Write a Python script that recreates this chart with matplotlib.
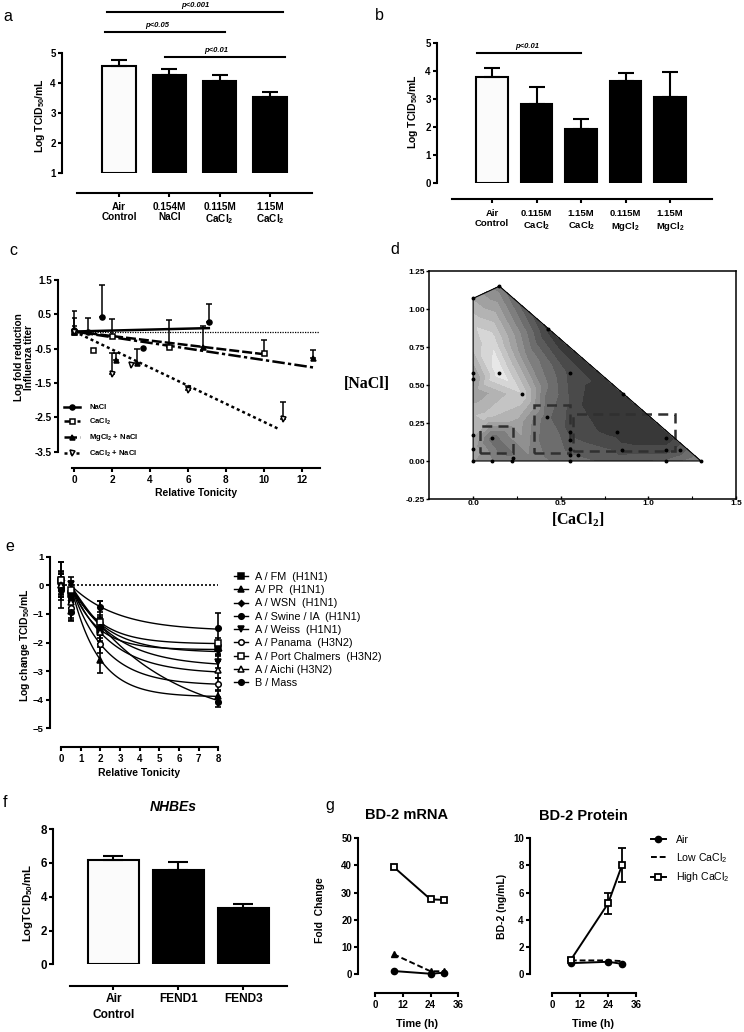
import numpy as np
import matplotlib
matplotlib.use('Agg')
import matplotlib.pyplot as plt
import matplotlib.tri as mtri
from matplotlib.lines import Line2D
from matplotlib.patches import Rectangle

# ---------------- data ----------------
# a: virus titer after salt exposure
a_labels = ['Air\nControl', '0.154M\nNaCl', '0.115M\nCaCl$_2$', '1.15M\nCaCl$_2$']
a_vals = [4.58, 4.28, 4.09, 3.54]
a_err = [0.20, 0.19, 0.18, 0.18]

# b
b_labels = ['Air\nControl', '0.115M\nCaCl$_2$', '1.15M\nCaCl$_2$', '0.115M\nMgCl$_2$', '1.15M\nMgCl$_2$']
b_vals = [3.78, 2.82, 1.92, 3.66, 3.08]
b_err = [0.32, 0.60, 0.36, 0.26, 0.88]

# c: log fold reduction vs relative tonicity
c_nacl_x = [0, 0.7, 1.44, 3.6, 7.1]
c_nacl_y = [0.05, 0.0, 0.42, -0.47, 0.28]
c_nacl_err = [0.12, 0.39, 0.92, 0, 0.52]
c_cacl_x = [0, 1.0, 2.0, 5.0, 10.0]
c_cacl_y = [0.0, -0.53, -0.13, -0.44, -0.62]
c_cacl_err = [0, 0, 0.48, 0.77, 0.38]
c_mg_x = [0, 2.2, 3.3, 6.8, 12.6]
c_mg_y = [0.0, -0.82, -0.93, -0.46, -0.78]
c_mg_err = [0.4, 0.2, 0.42, 0.63, 0.24]
c_cana_x = [0, 2.0, 3.0, 6.0, 11.0]
c_cana_y = [0.0, -1.24, -0.98, -1.70, -2.55]
c_cana_err = [0.6, 0.6, 0, 0.1, 0.5]
c_labels = ['NaCl', 'CaCl$_2$', 'MgCl$_2$ + NaCl', 'CaCl$_2$ + NaCl']
c_fit_slope = [0.014, -0.066, -0.083, -0.263]
c_fit_end = [7.1, 10.0, 12.6, 10.8]

# d: response surface over [CaCl2] x [NaCl]
d_x = [0, 0.11, 0.22, 0.33, 0.55, 0.8, 1.1, 1.3,
       0, 0, 0, 0, 0, 0, 0, 0,
       0.15, 0.43, 0.857, 1.12,
       0.15, 0.1, 0.28, 0.11, 0.16, 0.08, 0.25, 0.3, 0.42, 0.55, 0.55, 0.55,
       0.82, 0.85, 1.1, 0.4, 0.6, 0.7]
d_y = [0, 0, 0, 0, 0, 0, 0, 0,
       0.08, 0.17, 0.3, 0.45, 0.54, 0.75, 0.9, 1.07,
       1.15, 0.868, 0.441, 0.175,
       0.58, 0.8, 0.44, 0.15, 0.08, 0.3, 0.25, 0.7, 0.29, 0.58, 0.2, 0.08,
       0.19, 0.07, 0.07, 0.5, 0.35, 0.45]
d_z = [0.55, 0.45, 0.4, 0.42, 0.3, 0.25, 0.28, 0.45,
       0.6, 0.65, 0.72, 0.55, 0.5, 0.75, 0.8, 0.62,
       0.4, 0.05, 0.0, 0.02,
       0.97, 0.88, 0.8, 0.3, 0.3, 0.75, 0.6, 0.45, 0.3, 0.15, 0.15, 0.25,
       0.05, 0.12, 0.12, 0.4, 0.1, 0.05]
d_dot_x = [0, 0.11, 0.22, 0.23, 0.55, 1.1, 1.3, 0, 0, 0, 0, 0, 0.15, 0.15, 0.28, 0.11,
           0.42, 0.55, 0.55, 0.55, 0.55, 0.55, 0.6, 0.82, 0.85, 1.1, 1.1, 1.18, 0.43, 0.857]
d_dot_y = [0, 0, 0, 0.02, 0, 0, 0, 0.08, 0.17, 0.54, 0.58, 1.07, 1.15, 0.58, 0.44, 0.15,
           0.29, 0.58, 0.19, 0.14, 0.08, 0.04, 0.04, 0.19, 0.07, 0.15, 0.07, 0.07, 0.868, 0.441]
d_box_x0 = [0.04, 0.35, 0.57]
d_box_y0 = [0.05, 0.05, 0.066]
d_box_x1 = [0.23, 0.55, 1.15]
d_box_y1 = [0.23, 0.37, 0.306]

# e: strains, log change at each tonicity
e_x = [0, 0.5, 2, 8]
e_names = ['A / FM  (H1N1)', 'A/ PR  (H1N1)', 'A / WSN  (H1N1)', 'A / Swine / IA  (H1N1)',
           'A / Weiss  (H1N1)', 'A / Panama  (H3N2)', 'A / Port Chalmers  (H3N2)',
           'A / Aichi (H3N2)', 'B / Mass']
e_fm = [0.15, -0.3, -1.55, -2.2]
e_pr = [0.0, -0.9, -2.6, -3.88]
e_wsn = [0.2, -0.5, -1.35, -2.25]
e_swine = [0.0, -0.2, -0.75, -1.5]
e_weiss = [0.1, 0.05, -1.4, -2.68]
e_panama = [-0.1, -0.8, -2.05, -3.45]
e_port = [0.2, -0.15, -1.3, -2.0]
e_aichi = [0.0, -0.6, -1.65, -2.95]
e_bmass = [-0.15, -0.95, -1.45, -4.08]
e_fm_err = [0.3, 0.3, 0.3, 0.2]
e_pr_err = [0.3, 0.3, 0.45, 0.2]
e_wsn_err = [0.6, 0.3, 0.3, 0.2]
e_swine_err = [0.8, 0.3, 0.2, 0.52]
e_weiss_err = [0.3, 0.25, 0.3, 0.2]
e_panama_err = [0.3, 0.35, 0.3, 0.2]
e_port_err = [0.2, 0.3, 0.75, 0.15]
e_aichi_err = [0.5, 0.3, 0.3, 0.3]
e_bmass_err = [0.2, 0.3, 0.3, 0.17]
# one-phase decay fit parameters (plateau, rate)
e_plateau = [-2.25, -3.9, -2.35, -1.6, -2.85, -3.5, -2.05, -3.1, -5.0]
e_rate = [0.778, 0.732, 0.569, 0.422, 0.45, 0.588, 0.67, 0.506, 0.219]

# f: NHBEs
f_labels = ['Air\nControl', 'FEND1', 'FEND3']
f_vals = [6.17, 5.58, 3.31]
f_err = [0.24, 0.46, 0.26]

# g: BD-2
g_time = [8, 24, 30]
g_mrna_air = [1.1, 0.1, 0.5]
g_mrna_low = [7.3, 1.0, 1.0]
g_mrna_high = [39.5, 27.5, 27.3]
g_prot_air = [0.8, 0.9, 0.75]
g_prot_low = [1.0, 1.0, 0.95]
g_prot_high = [1.05, 5.2, 8.03]
g_prot_high_err = [0.1, 0.8, 1.27]

# ---------------- style ----------------
plt.rcParams['font.family'] = ['Liberation Sans', 'DejaVu Sans']
plt.rcParams['font.weight'] = 'bold'
plt.rcParams['axes.labelweight'] = 'bold'
plt.rcParams['mathtext.default'] = 'regular'
plt.rcParams['axes.linewidth'] = 1.5
plt.rcParams['xtick.major.width'] = 1.5
plt.rcParams['ytick.major.width'] = 1.5
plt.rcParams['xtick.major.size'] = 3
plt.rcParams['ytick.major.size'] = 3
plt.rcParams['xtick.major.pad'] = 2
plt.rcParams['ytick.major.pad'] = 1.5
plt.rcParams['xtick.labelsize'] = 7
plt.rcParams['ytick.labelsize'] = 7

W, H = 744, 1032
fig = plt.figure(figsize=(W / 100, H / 100), dpi=100)


def add_ax(left, top, right, bottom):
    return fig.add_axes([left / W, 1 - bottom / H, (right - left) / W, (bottom - top) / H])


def prism(ax, left_out, bottom_out):
    ax.spines['top'].set_visible(False)
    ax.spines['right'].set_visible(False)
    ax.spines['left'].set_position(('outward', left_out * 0.72))
    ax.spines['bottom'].set_position(('outward', bottom_out * 0.72))
    ax.patch.set_visible(False)


def ylab(ax, text, cx, cy, size=7.5, **kw):
    # place y label centre at figure pixel (cx, cy)
    ax.set_ylabel(text, fontsize=size, va='center', ha='center', **kw)
    tr = ax.transAxes.inverted()
    px, py = tr.transform((cx, H - cy))
    ax.yaxis.set_label_coords(px, py)


def xlab(ax, text, cx, cy, size=7.5):
    ax.set_xlabel(text, fontsize=size, va='center', ha='center')
    tr = ax.transAxes.inverted()
    px, py = tr.transform((cx, H - cy))
    ax.xaxis.set_label_coords(px, py)


def letter(ch, x, y):
    fig.text(x / W, 1 - y / H, ch, fontsize=11.5, weight='normal', va='baseline', ha='left')


def bars(ax, vals, err, base, width, capsize):
    xs = np.arange(len(vals))
    colors = ['#fbfbfb'] + ['black'] * (len(vals) - 1)
    ax.bar(xs, np.array(vals) - base, bottom=base, width=width, color=colors,
           edgecolor='black', linewidth=1.5)
    ax.errorbar(xs, vals, yerr=[np.zeros(len(vals)), err], fmt='none', ecolor='black',
                elinewidth=1.5, capsize=capsize, capthick=1.5)


def sig(ax, x0, x1, y, ty, tx, text):
    ax.plot([x0, x1], [y, y], color='black', lw=1.5, clip_on=False)
    ax.text(tx, ty, text, ha='center', va='center', fontsize=5.5, style='italic',
            weight='bold', clip_on=False)


# ---------------- panel a ----------------
axa = add_ax(77, 53.3, 312, 173.3)
prism(axa, 15, 20)
bars(axa, a_vals, a_err, 1, 0.67, 5.6)
axa.set_xlim(-0.84, 3.84)
axa.set_ylim(1, 5)
axa.set_yticks([1, 2, 3, 4, 5])
axa.set_xticks(range(4))
axa.set_xticklabels(a_labels, fontsize=7.2, linespacing=1.1)
axa.tick_params(axis='x', pad=3)
ylab(axa, 'Log TCID$_{50}$/mL', 40, 116)
sig(axa, -0.24, 3.26, 6.38, 6.6, 1.51, 'p<0.001')
sig(axa, -0.28, 2.10, 5.71, 5.92, 0.75, 'p<0.05')
sig(axa, 0.91, 3.30, 4.89, 5.11, 1.94, 'p<0.01')
letter('a', 3, 21)

# ---------------- panel b ----------------
axb = add_ax(452, 43.3, 712, 182.7)
prism(axb, 15, 16.3)
bars(axb, b_vals, b_err, 0, 0.71, 6)
axb.set_xlim(-0.9, 4.94)
axb.set_ylim(0, 5)
axb.set_yticks([0, 1, 2, 3, 4, 5])
axb.set_xticks(range(5))
axb.set_xticklabels(b_labels, fontsize=6.8, linespacing=1.25)
axb.tick_params(axis='x', pad=4)
ylab(axb, 'Log TCID$_{50}$/mL', 413, 112)
sig(axb, -0.34, 2.0, 4.66, 4.87, 0.79, 'p<0.01')
letter('b', 375, 20)

# ---------------- panel c ----------------
axc = add_ax(71.7, 280, 320, 451.7)
prism(axc, 13.7, 16.3)
axc.set_xlim(-0.14, 12.97)
axc.set_ylim(-3.5, 1.5)
axc.axhline(0, color='black', lw=0.9, ls=(0, (1, 1)))
c_styles = ['-', (0, (4, 1.2)), (0, (5, 1.3, 1.3, 1.3)), (0, (1.2, 1.2))]
c_markers = ['o', 's', '^', 'v']
c_faces = ['black', 'white', 'black', 'white']
c_series = [(c_nacl_x, c_nacl_y, c_nacl_err), (c_cacl_x, c_cacl_y, c_cacl_err),
            (c_mg_x, c_mg_y, c_mg_err), (c_cana_x, c_cana_y, c_cana_err)]
handles = []
for i, (xs, ys, er) in enumerate(c_series):
    xs, ys, er = np.array(xs), np.array(ys), np.array(er)
    fx = np.array([0, c_fit_end[i]])
    axc.plot(fx, c_fit_slope[i] * fx, color='black', lw=1.8, ls=c_styles[i], zorder=3)
    m = er > 0
    axc.errorbar(xs[m], ys[m], yerr=[np.zeros(m.sum()), er[m]], fmt='none', ecolor='black',
                 elinewidth=1.1, capsize=2.2, capthick=1.1, zorder=2)
    axc.plot(xs, ys, ls='none', marker=c_markers[i], mfc=c_faces[i], mec='black', mew=1.1,
             ms=3.6, zorder=4, clip_on=False)
    handles.append(Line2D([], [], color='black', lw=1.8, ls=c_styles[i], marker=c_markers[i],
                          mfc=c_faces[i], mec='black', mew=1.1, ms=3.6))
axc.set_xticks(range(0, 13, 2))
axc.set_yticks([1.5, 0.5, -0.5, -1.5, -2.5, -3.5])
axc.set_yticklabels(['1.5', '0.5', '-0.5', '-1.5', '-2.5', '-3.5'])
axc.tick_params(labelsize=7.2)
axc.legend(handles, c_labels, loc='upper left', bbox_to_anchor=(64 / W, 1 - 404 / H),
           bbox_transform=fig.transFigure, frameon=False, fontsize=5.5, handlelength=2.1,
           handletextpad=1.2, labelspacing=0.7, borderpad=0, borderaxespad=0)
ylab(axc, 'Log fold reduction\nInfluenza titer', 24, 357, 7.2, linespacing=0.95)
xlab(axc, 'Relative Tonicity', 196, 493)
letter('c', 9, 255)

# ---------------- panel d ----------------
axd = add_ax(429.3, 271, 736, 499)
tri = mtri.Triangulation(d_x, d_y)
axd.tricontourf(tri, d_z, levels=np.linspace(0, 1, 12), cmap='gray', vmin=-0.25, vmax=1.08)
axd.plot([0, 0, 0.15, 1.3, 0], [0, 1.07, 1.15, 0, 0], color='black', lw=0.8)
axd.plot(d_dot_x, d_dot_y, ls='none', marker='o', ms=1.8, color='black')
for x0, y0, x1, y1 in zip(d_box_x0, d_box_y0, d_box_x1, d_box_y1):
    axd.add_patch(Rectangle((x0, y0), x1 - x0, y1 - y0, fill=False, ec='#303030', lw=1.8,
                            ls=(0, (4, 2.5))))
axd.set_xlim(-0.25, 1.5)
axd.set_ylim(-0.25, 1.25)
axd.set_xticks([0, 0.5, 1.0, 1.5])
axd.set_xticklabels(['0.0', '0.5', '1.0', '1.5'])
axd.set_xticks([0.25, 0.75, 1.25], minor=True)
axd.set_yticks([-0.25, 0, 0.25, 0.5, 0.75, 1.0, 1.25])
axd.set_yticklabels(['-0.25', '0.00', '0.25', '0.50', '0.75', '1.00', '1.25'])
axd.tick_params(labelsize=6, width=1, length=2, pad=1)
axd.tick_params(axis='x', which='minor', length=2, width=0.8, direction='in')
axd.tick_params(axis='x', which='major', direction='in')
for s in axd.spines.values():
    s.set_linewidth(1.1)
fig.text(367 / W, 1 - 384 / H, '[NaCl]', family='Liberation Serif', weight='bold',
         fontsize=11.5, ha='center', va='center')
fig.text(578 / W, 1 - 520 / H, '[CaCl$_2$]', family='Liberation Serif', weight='bold',
         fontsize=11.5, ha='center', va='center')
letter('d', 390, 254)

# ---------------- panel e ----------------
axe = add_ax(61, 556.7, 218.3, 728.3)
prism(axe, 11, 19)
axe.set_xlim(0, 8)
axe.set_ylim(-5, 1)
axe.plot([0, 8], [0, 0], color='black', lw=1.2, ls=(0, (1.2, 1.2)), zorder=1)
e_series = [(e_fm, e_fm_err), (e_pr, e_pr_err), (e_wsn, e_wsn_err), (e_swine, e_swine_err),
            (e_weiss, e_weiss_err), (e_panama, e_panama_err), (e_port, e_port_err),
            (e_aichi, e_aichi_err), (e_bmass, e_bmass_err)]
e_markers = ['s', '^', 'D', 'o', 'v', 'o', 's', '^', 'o']
e_msize = [4, 4, 3, 4, 4, 4, 4, 4, 4]
e_faces = ['black', 'black', 'black', 'black', 'black', 'white', 'white', 'white', 'black']
fine_x = np.linspace(0.5, 8, 100)
handles = []
for i, (ys, er) in enumerate(e_series):
    axe.plot(fine_x, e_plateau[i] * (1 - np.exp(-e_rate[i] * (fine_x - 0.5))), color='black',
             lw=1.0, zorder=2)
    axe.errorbar(e_x, ys, yerr=er, fmt='none', ecolor='black', elinewidth=1.2, capsize=2.5,
                 capthick=1.2, zorder=3, clip_on=False)
    axe.plot(e_x, ys, ls='none', marker=e_markers[i], ms=e_msize[i], mfc=e_faces[i],
             mec='black', mew=1.1, zorder=4, clip_on=False)
    handles.append(Line2D([], [], color='black', lw=1.0, marker=e_markers[i], ms=e_msize[i],
                          mfc=e_faces[i], mec='black', mew=1.1))
axe.set_xticks(range(9))
axe.set_yticks([1, 0, -1, -2, -3, -4, -5])
axe.tick_params(axis='y', labelsize=6.8)
axe.legend(handles, e_names, loc='upper left', bbox_to_anchor=(234 / W, 1 - 572 / H),
           bbox_transform=fig.transFigure, frameon=False, prop={'size': 7.8, 'weight': 'normal'},
           handlelength=1.3, handletextpad=0.6, labelspacing=0.3, borderpad=0, borderaxespad=0)
ylab(axe, 'Log change TCID$_{50}$/mL', 25, 645)
xlab(axe, 'Relative Tonicity', 139, 773)
letter('e', 5, 551)

# ---------------- panel f ----------------
axf = add_ax(70, 829.1, 287.3, 964.3)
prism(axf, 16.7, 21.7)
bars(axf, f_vals, f_err, 0, 0.785, 7.2)
axf.set_xlim(-0.67, 2.68)
axf.set_ylim(0, 8)
axf.set_yticks([0, 2, 4, 6, 8])
axf.set_xticks(range(3))
axf.set_xticklabels(f_labels, fontsize=8.6, linespacing=1.45)
axf.tick_params(axis='y', labelsize=8.4)
ylab(axf, 'LogTCID$_{50}$/mL', 28, 903, 8.2)
axf.text((173.3 - 70) / (287.3 - 70), (964.3 - 806.7) / (964.3 - 829.1), 'NHBEs',
         transform=axf.transAxes, ha='center', va='center', fontsize=10, style='italic',
         weight='bold')
letter('f', 3, 807)

# ---------------- panel g ----------------
axg1 = add_ax(375, 838.3, 458.3, 974)
prism(axg1, 16.7, 19.3)
axg1.plot(g_time, g_mrna_air, color='black', lw=1.4, marker='o', ms=4.5, clip_on=False)
axg1.plot(g_time, g_mrna_low, color='black', lw=1.4, ls=(0, (3, 1.5)), marker='^', ms=4.5,
          clip_on=False)
axg1.plot(g_time, g_mrna_high, color='black', lw=1.4, marker='s', ms=5, mfc='white', mew=1.3,
          clip_on=False)
axg1.set_xlim(0, 36)
axg1.set_ylim(0, 50)
axg1.set_xticks([0, 12, 24, 36])
axg1.set_yticks([0, 10, 20, 30, 40, 50])
ylab(axg1, 'Fold  Change', 320, 910, 7.5)
xlab(axg1, 'Time (h)', 417, 1024, 7.8)
axg1.text((406.7 - 375) / (458.3 - 375), (974 - 815) / (974 - 838.3), 'BD-2 mRNA',
          transform=axg1.transAxes, ha='center', va='center', fontsize=10.5)

axg2 = add_ax(552.3, 838.3, 636, 974)
prism(axg2, 22.3, 19.3)
axg2.plot(g_time, g_prot_air, color='black', lw=1.4, marker='o', ms=4.5, clip_on=False)
axg2.plot(g_time, g_prot_low, color='black', lw=1.4, ls=(0, (3, 1.5)), clip_on=False)
axg2.errorbar(g_time, g_prot_high, yerr=g_prot_high_err, color='black', lw=1.4, marker='s',
              ms=5, mfc='white', mew=1.3, elinewidth=1.3, capsize=3, capthick=1.3, clip_on=False)
axg2.set_xlim(0, 36)
axg2.set_ylim(0, 10)
axg2.set_xticks([0, 12, 24, 36])
axg2.set_yticks([0, 2, 4, 6, 8, 10])
ylab(axg2, 'BD-2 (ng/mL)', 502, 906, 7.5)
xlab(axg2, 'Time (h)', 593, 1024, 7.8)
axg2.text((583.3 - 552.3) / (636 - 552.3), (974 - 816) / (974 - 838.3), 'BD-2 Protein',
          transform=axg2.transAxes, ha='center', va='center', fontsize=10.5)
g_handles = [Line2D([], [], color='black', lw=1.4, marker='o', ms=4.5),
             Line2D([], [], color='black', lw=1.4, ls=(0, (3, 1.5))),
             Line2D([], [], color='black', lw=1.4, marker='s', ms=5, mfc='white', mew=1.3)]
axg2.legend(g_handles, ['Air', 'Low CaCl$_2$', 'High CaCl$_2$'], loc='upper left',
            bbox_to_anchor=(651 / W, 1 - 835 / H), bbox_transform=fig.transFigure,
            frameon=False, prop={'size': 7.6, 'weight': 'normal'}, handlelength=1.4,
            handletextpad=1.0, labelspacing=0.55, borderpad=0, borderaxespad=0)
letter('g', 325, 810)

fig.savefig('out.png', dpi=100)
